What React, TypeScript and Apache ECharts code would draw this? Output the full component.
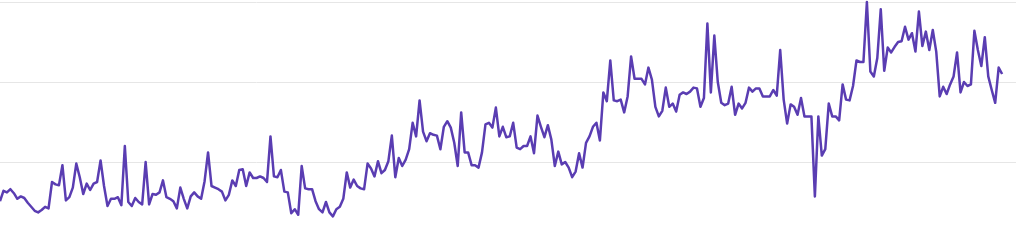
import React, { useEffect, useRef } from "react";
import * as echarts from "echarts";

const values: number[] = [
  51, 64, 62, 66, 61, 54, 57, 55, 49, 44, 39, 37, 40, 44, 42, 75, 72, 71, 96, 52,
  56, 68, 98, 81, 60, 73, 65, 73, 75, 102, 70, 45, 54, 54, 56, 46, 120, 50, 45, 55,
  50, 47, 100, 47, 60, 59, 62, 77, 56, 54, 51, 42, 68, 54, 42, 57, 62, 57, 54, 76,
  112, 70, 68, 66, 63, 52, 59, 77, 70, 90, 91, 70, 87, 80, 80, 82, 80, 75, 132, 82,
  81, 90, 63, 62, 36, 41, 34, 95, 67, 66, 66, 51, 41, 37, 50, 37, 32, 41, 44, 54,
  87, 68, 78, 70, 67, 66, 98, 92, 82, 101, 86, 90, 101, 133, 81, 105, 95, 103, 116, 149,
  132, 177, 138, 126, 136, 134, 133, 116, 144, 151, 143, 124, 95, 162, 112, 112, 96, 96, 93, 112,
  147, 149, 143, 168, 132, 144, 131, 132, 149, 118, 116, 120, 120, 132, 111, 158, 144, 131, 146, 128,
  95, 113, 97, 100, 93, 81, 88, 111, 93, 124, 132, 144, 149, 127, 187, 176, 227, 177, 176, 178,
  162, 182, 232, 204, 204, 204, 197, 218, 203, 169, 157, 164, 193, 169, 173, 163, 184, 187, 185, 188,
  193, 192, 169, 180, 273, 187, 258, 200, 174, 171, 173, 194, 159, 173, 167, 174, 193, 188, 192, 192,
  182, 182, 182, 190, 183, 240, 178, 148, 172, 169, 159, 180, 157, 157, 157, 57, 157, 108, 116, 173,
  157, 157, 152, 197, 178, 177, 195, 227, 225, 225, 300, 213, 207, 230, 291, 214, 243, 237, 244, 250,
  251, 269, 253, 261, 238, 288, 245, 263, 240, 265, 238, 182, 194, 185, 197, 207, 237, 187, 200, 195,
  197, 264, 240, 220, 256, 207, 190, 174, 218, 210,
];

const xMin = 0;
const xMax = 293;
const yMin = 0;
const yMax = 300;
const yInterval = 100;

export default function App() {
  const ref = useRef<HTMLDivElement>(null);

  useEffect(() => {
    if (!ref.current) return;
    const chart = echarts.init(ref.current, undefined, { renderer: "svg" });
    chart.setOption({
      animation: false,
      grid: { left: 0, right: 8, top: 2, height: 241, containLabel: false },
      xAxis: {
        type: "value",
        min: xMin,
        max: xMax,
        axisLine: { show: false },
        axisTick: { show: false },
        axisLabel: { show: false },
        splitLine: { show: false },
      },
      yAxis: {
        type: "value",
        min: yMin,
        max: yMax,
        interval: yInterval,
        axisLine: { show: false },
        axisTick: { show: false },
        axisLabel: { show: false },
        splitLine: { show: true, lineStyle: { color: "#e6e6e6", width: 1 } },
      },
      series: [
        {
          type: "line",
          data: values.map((v, i) => [i, v]),
          showSymbol: false,
          symbol: "none",
          clip: false,
          lineStyle: { color: "#5a3db2", width: 2.5, join: "round" },
          itemStyle: { color: "#5a3db2" },
        },
      ],
    });
    return () => chart.dispose();
  }, []);

  return (
    <div
      ref={ref}
      style={{ position: "absolute", left: 0, top: 0, width: 1024, height: 242, overflow: "hidden" }}
    />
  );
}
